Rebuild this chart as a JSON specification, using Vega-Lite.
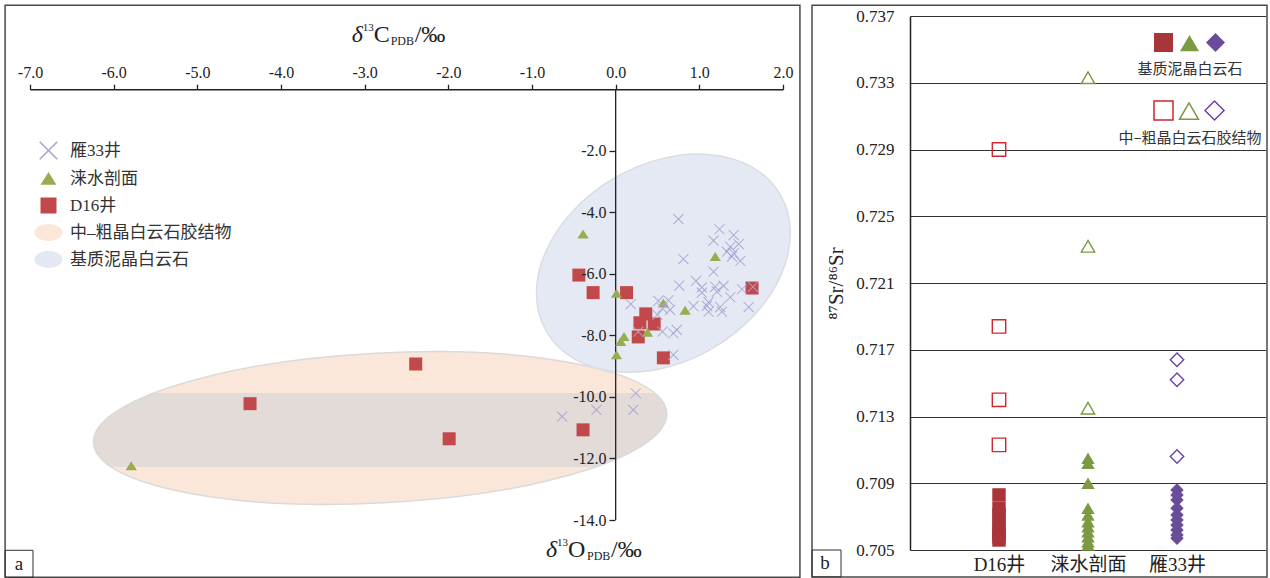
{
  "$schema": "https://vega.github.io/schema/vega-lite/v6.json",
  "background": "white",
  "padding": {"left": 4, "top": 4, "right": 0, "bottom": 0},
  "spacing": 10,
  "config": {"view": {"stroke": null}, "font": "Liberation Serif"},
  "datasets": {
    "iso": [
      {"group": "D16井", "d13C": -0.44, "d18O": -6.04},
      {"group": "D16井", "d13C": -0.27, "d18O": -6.61},
      {"group": "D16井", "d13C": 0.13, "d18O": -6.61},
      {"group": "D16井", "d13C": 0.36, "d18O": -7.30},
      {"group": "D16井", "d13C": 0.29, "d18O": -7.59},
      {"group": "D16井", "d13C": 0.46, "d18O": -7.63},
      {"group": "D16井", "d13C": 0.27, "d18O": -8.05},
      {"group": "D16井", "d13C": 0.57, "d18O": -8.73},
      {"group": "D16井", "d13C": 1.63, "d18O": -6.46},
      {"group": "D16井", "d13C": -2.39, "d18O": -8.93},
      {"group": "D16井", "d13C": -4.37, "d18O": -10.22},
      {"group": "D16井", "d13C": -1.99, "d18O": -11.36},
      {"group": "D16井", "d13C": -0.39, "d18O": -11.07},
      {"group": "涞水剖面", "d13C": -0.39, "d18O": -4.71},
      {"group": "涞水剖面", "d13C": 0.01, "d18O": -6.63},
      {"group": "涞水剖面", "d13C": 0.57, "d18O": -6.95},
      {"group": "涞水剖面", "d13C": 0.83, "d18O": -7.19},
      {"group": "涞水剖面", "d13C": 1.19, "d18O": -5.44},
      {"group": "涞水剖面", "d13C": 0.38, "d18O": -7.90},
      {"group": "涞水剖面", "d13C": 0.10, "d18O": -8.04},
      {"group": "涞水剖面", "d13C": 0.06, "d18O": -8.20},
      {"group": "涞水剖面", "d13C": 0.01, "d18O": -8.63},
      {"group": "涞水剖面", "d13C": -5.79, "d18O": -12.24},
      {"group": "雁33井", "d13C": 0.75, "d18O": -4.22},
      {"group": "雁33井", "d13C": 1.24, "d18O": -4.55},
      {"group": "雁33井", "d13C": 1.41, "d18O": -4.74},
      {"group": "雁33井", "d13C": 1.17, "d18O": -4.92},
      {"group": "雁33井", "d13C": 1.47, "d18O": -5.03},
      {"group": "雁33井", "d13C": 1.37, "d18O": -5.12},
      {"group": "雁33井", "d13C": 1.33, "d18O": -5.28},
      {"group": "雁33井", "d13C": 1.41, "d18O": -5.33},
      {"group": "雁33井", "d13C": 1.39, "d18O": -5.44},
      {"group": "雁33井", "d13C": 1.49, "d18O": -5.58},
      {"group": "雁33井", "d13C": 0.81, "d18O": -5.52},
      {"group": "雁33井", "d13C": 1.17, "d18O": -5.93},
      {"group": "雁33井", "d13C": 0.76, "d18O": -6.38},
      {"group": "雁33井", "d13C": 0.96, "d18O": -6.23},
      {"group": "雁33井", "d13C": 1.03, "d18O": -6.44},
      {"group": "雁33井", "d13C": 1.03, "d18O": -6.61},
      {"group": "雁33井", "d13C": 1.19, "d18O": -6.42},
      {"group": "雁33井", "d13C": 1.29, "d18O": -6.39},
      {"group": "雁33井", "d13C": 1.21, "d18O": -6.58},
      {"group": "雁33井", "d13C": 1.51, "d18O": -6.50},
      {"group": "雁33井", "d13C": 1.64, "d18O": -6.42},
      {"group": "雁33井", "d13C": 1.37, "d18O": -6.76},
      {"group": "雁33井", "d13C": 1.11, "d18O": -6.92},
      {"group": "雁33井", "d13C": 1.25, "d18O": -7.08},
      {"group": "雁33井", "d13C": 1.59, "d18O": -7.08},
      {"group": "雁33井", "d13C": 0.51, "d18O": -6.88},
      {"group": "雁33井", "d13C": 0.63, "d18O": -6.86},
      {"group": "雁33井", "d13C": 0.18, "d18O": -6.98},
      {"group": "雁33井", "d13C": 0.93, "d18O": -7.05},
      {"group": "雁33井", "d13C": 1.09, "d18O": -7.04},
      {"group": "雁33井", "d13C": 0.56, "d18O": -7.12},
      {"group": "雁33井", "d13C": 0.65, "d18O": -7.17},
      {"group": "雁33井", "d13C": 1.11, "d18O": -7.23},
      {"group": "雁33井", "d13C": 1.27, "d18O": -7.23},
      {"group": "雁33井", "d13C": 0.50, "d18O": -7.33},
      {"group": "雁33井", "d13C": 0.56, "d18O": -7.88},
      {"group": "雁33井", "d13C": 0.69, "d18O": -7.93},
      {"group": "雁33井", "d13C": 0.73, "d18O": -7.82},
      {"group": "雁33井", "d13C": 0.27, "d18O": -7.88},
      {"group": "雁33井", "d13C": 0.69, "d18O": -8.63},
      {"group": "雁33井", "d13C": -0.64, "d18O": -10.64},
      {"group": "雁33井", "d13C": -0.23, "d18O": -10.42},
      {"group": "雁33井", "d13C": 0.21, "d18O": -10.42},
      {"group": "雁33井", "d13C": 0.24, "d18O": -9.88}
    ],
    "srMatrix": [
      {"well": "D16井", "value": 0.7083}, {"well": "D16井", "value": 0.7075}, {"well": "D16井", "value": 0.7071},
      {"well": "D16井", "value": 0.7067}, {"well": "D16井", "value": 0.7063}, {"well": "D16井", "value": 0.7060},
      {"well": "D16井", "value": 0.7058}, {"well": "D16井", "value": 0.7056},
      {"well": "涞水剖面", "value": 0.7105}, {"well": "涞水剖面", "value": 0.7102}, {"well": "涞水剖面", "value": 0.7090},
      {"well": "涞水剖面", "value": 0.7075}, {"well": "涞水剖面", "value": 0.7071}, {"well": "涞水剖面", "value": 0.7067},
      {"well": "涞水剖面", "value": 0.7064}, {"well": "涞水剖面", "value": 0.7061}, {"well": "涞水剖面", "value": 0.7058},
      {"well": "涞水剖面", "value": 0.7055}, {"well": "涞水剖面", "value": 0.7053},
      {"well": "雁33井", "value": 0.7086}, {"well": "雁33井", "value": 0.7083}, {"well": "雁33井", "value": 0.7080},
      {"well": "雁33井", "value": 0.7075}, {"well": "雁33井", "value": 0.7071}, {"well": "雁33井", "value": 0.7068},
      {"well": "雁33井", "value": 0.7065}, {"well": "雁33井", "value": 0.7062}, {"well": "雁33井", "value": 0.7059},
      {"well": "雁33井", "value": 0.7057}
    ],
    "srCement": [
      {"well": "D16井", "value": 0.7290}, {"well": "D16井", "value": 0.7184}, {"well": "D16井", "value": 0.7140},
      {"well": "D16井", "value": 0.7113},
      {"well": "涞水剖面", "value": 0.7333}, {"well": "涞水剖面", "value": 0.7232}, {"well": "涞水剖面", "value": 0.7135},
      {"well": "雁33井", "value": 0.7164}, {"well": "雁33井", "value": 0.7152}, {"well": "雁33井", "value": 0.7106}
    ]
  },
  "hconcat": [
    {
      "width": 753,
      "height": 504,
      "layer": [
        {
          "data": {"name": "iso"},
          "mark": {"type": "point", "filled": true, "opacity": 0, "size": 1},
          "encoding": {
            "x": {
              "field": "d13C", "type": "quantitative",
              "scale": {"domain": [-7, 2], "nice": false, "zero": false},
              "axis": {"orient": "top", "offset": -73.26, "values": [-7, -6, -5, -4, -3, -2, -1, 0, 1, 2], "labelExpr": "replace(format(datum.value, '.1f'), '−', '-')", "title": null, "grid": false, "domainColor": "#222222", "domainWidth": 1.3, "tickColor": "#222222", "tickWidth": 1.3, "tickSize": 5, "labelFontSize": 16, "labelFont": "Liberation Serif", "labelColor": "#222222", "labelPadding": 4, "labelFlush": false, "labelOverlap": false, "zindex": 1}
            },
            "y": {
              "field": "d18O", "type": "quantitative",
              "scale": {"domain": [-14, 2.381], "nice": false, "zero": false},
              "axis": {"orient": "left", "offset": -585, "values": [-2, -4, -6, -8, -10, -12, -14], "labelExpr": "replace(format(datum.value, '.1f'), '−', '-')", "title": null, "grid": false, "domain": false, "tickColor": "#222222", "tickWidth": 1.3, "tickSize": 6, "labelFontSize": 16, "labelFont": "Liberation Serif", "labelColor": "#222222", "labelPadding": 3, "labelFlush": false, "labelOverlap": false, "zindex": 1}
            }
          }
        },
        {
          "data": {"values": [{}]},
          "mark": {"type": "rect", "filled": false, "color": "#4a4a4a", "strokeWidth": 1.5},
          "encoding": {
            "x": {"datum": -7.2976, "type": "quantitative"},
            "x2": {"datum": 2.2024},
            "y": {"datum": 2.7288, "type": "quantitative"},
            "y2": {"datum": -15.862}
          }
        },
        {
          "data": {"values": [{}]},
          "mark": {"type": "rect", "filled": false, "color": "#333333", "strokeWidth": 1},
          "encoding": {
            "x": {"datum": -7.2976, "type": "quantitative"},
            "x2": {"datum": -6.9643},
            "y": {"datum": -14.985, "type": "quantitative"},
            "y2": {"datum": -15.862}
          }
        },
        {
          "data": {"values": [{}]},
          "mark": {"type": "text", "text": "a", "fontSize": 19, "font": "Liberation Serif", "color": "#222222", "align": "center", "baseline": "middle"},
          "encoding": {
            "x": {"datum": -7.131, "type": "quantitative"},
            "y": {"datum": -15.423, "type": "quantitative"}
          }
        },
        {
          "data": {"values": [{}]},
          "mark": {"type": "point", "shape": "M-1,0A1,0.261,0,1,0,1,0A1,0.261,0,1,0,-1,0Z", "size": 329476, "angle": -3, "filled": true, "fill": "#fbe6da", "strokeWidth": 0, "opacity": 1},
          "encoding": {
            "x": {"datum": -2.815, "type": "quantitative"},
            "y": {"datum": -11.01, "type": "quantitative"}
          }
        },
        {
          "data": {"values": [{}]},
          "mark": {"type": "point", "shape": "M-0.7892,-0.122L0.9564,-0.122A1,0.2613,-3,0,1,0.7509,0.1359L-0.9373,0.1359A1,0.2613,-3,0,1,-0.7892,-0.122Z", "size": 329476, "angle": 0, "filled": true, "fill": "#e3dbd7", "strokeWidth": 0, "opacity": 1},
          "encoding": {
            "x": {"datum": -2.815, "type": "quantitative"},
            "y": {"datum": -11.01, "type": "quantitative"}
          }
        },
        {
          "data": {"values": [{}]},
          "mark": {"type": "point", "shape": "M-1,0A1,0.261,0,1,0,1,0A1,0.261,0,1,0,-1,0Z", "size": 329476, "angle": -3, "filled": false, "stroke": "#dadada", "strokeWidth": 1.5, "opacity": 1},
          "encoding": {
            "x": {"datum": -2.815, "type": "quantitative"},
            "y": {"datum": -11.01, "type": "quantitative"}
          }
        },
        {
          "data": {"values": [{}]},
          "mark": {"type": "point", "shape": "M-1,0A1,0.725,0,1,0,1,0A1,0.725,0,1,0,-1,0Z", "size": 73441, "angle": -30.5, "filled": true, "fill": "#e5e9f4", "stroke": "#dcdde3", "strokeWidth": 1.5, "opacity": 1},
          "encoding": {
            "x": {"datum": 0.571, "type": "quantitative"},
            "y": {"datum": -5.652, "type": "quantitative"}
          }
        },
        {
          "data": {"values": [{}]},
          "mark": {"type": "rule", "color": "#222222", "strokeWidth": 1.3},
          "encoding": {
            "x": {"datum": 0, "type": "quantitative"},
            "y": {"datum": 0, "type": "quantitative"},
            "y2": {"datum": -14}
          }
        },
        {
          "data": {"name": "iso"},
          "mark": {"type": "point", "filled": true, "opacity": 1, "strokeWidth": 0},
          "encoding": {
            "x": {"field": "d13C", "type": "quantitative"},
            "y": {"field": "d18O", "type": "quantitative"},
            "color": {
              "field": "group", "type": "nominal",
              "scale": {"domain": ["雁33井", "涞水剖面", "D16井", "中–粗晶白云石胶结物", "基质泥晶白云石"], "range": ["#a9a5d2", "#9aab50", "#c1484b", "#fbe6da", "#e4e8f4"]},
              "legend": {"title": null, "orient": "none", "legendX": 10, "legendY": 126, "symbolSize": 256, "symbolStrokeWidth": 0, "symbolOpacity": 1, "labelFontSize": 17, "labelFont": "Liberation Serif, Noto Sans CJK SC", "labelColor": "#333333", "labelOffset": 13, "rowPadding": 9, "labelLimit": 400}
            },
            "shape": {
              "field": "group", "type": "nominal",
              "scale": {"domain": ["雁33井", "涞水剖面", "D16井", "中–粗晶白云石胶结物", "基质泥晶白云石"], "range": ["M-1.03,-1.17L1.17,1.03L1.03,1.17L-1.17,-1.03ZM-1.17,1.03L1.03,-1.17L1.17,-1.03L-1.03,1.17Z", "M0,-0.82L1,0.78L-1,0.78Z", "square", "M-1.75,0A1.75,1.05,0,1,0,1.75,0A1.75,1.05,0,1,0,-1.75,0Z", "M-1.75,0A1.75,1.05,0,1,0,1.75,0A1.75,1.05,0,1,0,-1.75,0Z"]},
              "legend": {"title": null, "orient": "none", "legendX": 10, "legendY": 126, "symbolSize": 256, "symbolStrokeWidth": 0, "symbolOpacity": 1, "labelFontSize": 17, "labelFont": "Liberation Serif, Noto Sans CJK SC", "labelColor": "#333333", "labelOffset": 13, "rowPadding": 9, "labelLimit": 400}
            },
            "size": {
              "field": "group", "type": "nominal",
              "scale": {"domain": ["雁33井", "涞水剖面", "D16井"], "range": [84, 169, 132]},
              "legend": null
            }
          }
        },
        {
          "data": {"values": [{}]},
          "mark": {"type": "text", "text": "δ", "fontSize": 24, "fontStyle": "italic", "font": "Liberation Serif", "color": "#222222", "align": "left", "baseline": "alphabetic", "dx": 0},
          "encoding": {"x": {"datum": -3.155, "type": "quantitative"}, "y": {"datum": 1.5425, "type": "quantitative"}}
        },
        {
          "data": {"values": [{}]},
          "mark": {"type": "text", "text": "13", "fontSize": 11, "font": "Liberation Serif", "color": "#222222", "align": "left", "baseline": "alphabetic", "dx": 11, "dy": -11},
          "encoding": {"x": {"datum": -3.155, "type": "quantitative"}, "y": {"datum": 1.5425, "type": "quantitative"}}
        },
        {
          "data": {"values": [{}]},
          "mark": {"type": "text", "text": "C", "fontSize": 24, "font": "Liberation Serif", "color": "#222222", "align": "left", "baseline": "alphabetic", "dx": 22},
          "encoding": {"x": {"datum": -3.155, "type": "quantitative"}, "y": {"datum": 1.5425, "type": "quantitative"}}
        },
        {
          "data": {"values": [{}]},
          "mark": {"type": "text", "text": "PDB", "fontSize": 12, "font": "Liberation Serif", "color": "#222222", "align": "left", "baseline": "alphabetic", "dx": 39, "dy": 3},
          "encoding": {"x": {"datum": -3.155, "type": "quantitative"}, "y": {"datum": 1.5425, "type": "quantitative"}}
        },
        {
          "data": {"values": [{}]},
          "mark": {"type": "text", "text": "/‰", "fontSize": 24, "font": "Liberation Serif", "color": "#222222", "align": "left", "baseline": "alphabetic", "dx": 63},
          "encoding": {"x": {"datum": -3.155, "type": "quantitative"}, "y": {"datum": 1.5425, "type": "quantitative"}}
        },
        {
          "data": {"values": [{}]},
          "mark": {"type": "text", "text": "δ", "fontSize": 24, "fontStyle": "italic", "font": "Liberation Serif", "color": "#222222", "align": "left", "baseline": "alphabetic", "dx": 0},
          "encoding": {"x": {"datum": -0.833, "type": "quantitative"}, "y": {"datum": -15.212, "type": "quantitative"}}
        },
        {
          "data": {"values": [{}]},
          "mark": {"type": "text", "text": "13", "fontSize": 11, "font": "Liberation Serif", "color": "#222222", "align": "left", "baseline": "alphabetic", "dx": 11, "dy": -11},
          "encoding": {"x": {"datum": -0.833, "type": "quantitative"}, "y": {"datum": -15.212, "type": "quantitative"}}
        },
        {
          "data": {"values": [{}]},
          "mark": {"type": "text", "text": "O", "fontSize": 24, "font": "Liberation Serif", "color": "#222222", "align": "left", "baseline": "alphabetic", "dx": 22},
          "encoding": {"x": {"datum": -0.833, "type": "quantitative"}, "y": {"datum": -15.212, "type": "quantitative"}}
        },
        {
          "data": {"values": [{}]},
          "mark": {"type": "text", "text": "PDB", "fontSize": 12, "font": "Liberation Serif", "color": "#222222", "align": "left", "baseline": "alphabetic", "dx": 41, "dy": 3},
          "encoding": {"x": {"datum": -0.833, "type": "quantitative"}, "y": {"datum": -15.212, "type": "quantitative"}}
        },
        {
          "data": {"values": [{}]},
          "mark": {"type": "text", "text": "/‰", "fontSize": 24, "font": "Liberation Serif", "color": "#222222", "align": "left", "baseline": "alphabetic", "dx": 65},
          "encoding": {"x": {"datum": -0.833, "type": "quantitative"}, "y": {"datum": -15.212, "type": "quantitative"}}
        }
      ]
    },
    {
      "width": 356,
      "height": 534,
      "resolve": {"scale": {"x": "independent"}},
      "layer": [
        {
          "resolve": {"scale": {"color": "independent", "shape": "independent"}},
          "layer": [
            {
              "data": {"name": "srMatrix"},
              "mark": {"type": "point", "filled": true, "opacity": 1, "size": 180, "strokeWidth": 0},
              "encoding": {
                "x": {
                  "field": "well", "type": "nominal",
                  "scale": {"type": "point", "domain": ["D16井", "涞水剖面", "雁33井"], "padding": 1},
                  "axis": {"title": null, "domain": false, "ticks": false, "tickSize": 0, "labelAngle": 0, "labelFontSize": 19, "labelFont": "Liberation Serif, Noto Sans CJK SC", "labelColor": "#222222", "labelPadding": 5, "grid": false}
                },
                "y": {
                  "field": "value", "type": "quantitative",
                  "scale": {"domain": [0.705, 0.737], "nice": false, "zero": false},
                  "axis": {"title": "⁸⁷Sr/⁸⁶Sr", "values": [0.705, 0.709, 0.713, 0.717, 0.721, 0.725, 0.729, 0.733, 0.737], "format": ".3f", "grid": true, "gridColor": "#333333", "gridWidth": 1.2, "gridOpacity": 1, "domain": true, "domainColor": "#222222", "domainWidth": 1.5, "ticks": false, "tickSize": 0, "labelPadding": 16, "labelFontSize": 17, "labelFont": "Liberation Serif", "labelColor": "#222222", "titleFont": "Liberation Serif", "titleFontSize": 21, "titleFontWeight": "normal", "titleColor": "#222222", "titlePadding": 9}
                },
                "color": {
                  "field": "well", "type": "nominal",
                  "scale": {"domain": ["D16井", "涞水剖面", "雁33井"], "range": ["#a93538", "#7c9a42", "#6a4d98"]},
                  "legend": {"title": "基质泥晶白云石", "titleOrient": "bottom", "titleAnchor": "middle", "titleFont": "Noto Sans CJK SC", "titleFontSize": 15, "titleFontWeight": "normal", "titleColor": "#333333", "titlePadding": 10, "titleLimit": 300, "direction": "horizontal", "orient": "none", "legendX": 227, "legendY": 17, "labelExpr": "''", "labelOffset": 0, "columnPadding": 7, "symbolSize": 361, "symbolOffset": 0, "symbolStrokeWidth": 0, "symbolOpacity": 1}
                },
                "shape": {
                  "field": "well", "type": "nominal",
                  "scale": {"domain": ["D16井", "涞水剖面", "雁33井"], "range": ["square", "triangle-up", "diamond"]},
                  "legend": {"title": "基质泥晶白云石", "titleOrient": "bottom", "titleAnchor": "middle", "titleFont": "Noto Sans CJK SC", "titleFontSize": 15, "titleFontWeight": "normal", "titleColor": "#333333", "titlePadding": 10, "titleLimit": 300, "direction": "horizontal", "orient": "none", "legendX": 227, "legendY": 17, "labelExpr": "''", "labelOffset": 0, "columnPadding": 7, "symbolSize": 361, "symbolOffset": 0, "symbolStrokeWidth": 0, "symbolOpacity": 1}
                }
              }
            },
            {
              "data": {"name": "srCement"},
              "mark": {"type": "point", "filled": false, "opacity": 1, "size": 180, "strokeWidth": 1.4},
              "encoding": {
                "x": {"field": "well", "type": "nominal"},
                "y": {"field": "value", "type": "quantitative"},
                "color": {
                  "field": "well", "type": "nominal",
                  "scale": {"domain": ["D16井", "涞水剖面", "雁33井"], "range": ["#d0262e", "#7a9a3e", "#7040a5"]},
                  "legend": {"title": "中–粗晶白云石胶结物", "titleOrient": "bottom", "titleAnchor": "middle", "titleFont": "Noto Sans CJK SC", "titleFontSize": 15, "titleFontWeight": "normal", "titleColor": "#333333", "titlePadding": 8, "titleLimit": 300, "direction": "horizontal", "orient": "none", "legendX": 208, "legendY": 84, "labelExpr": "''", "labelOffset": 0, "columnPadding": 0.5, "symbolSize": 361, "symbolOffset": 0, "symbolStrokeWidth": 1.5, "symbolOpacity": 1}
                },
                "shape": {
                  "field": "well", "type": "nominal",
                  "scale": {"domain": ["D16井", "涞水剖面", "雁33井"], "range": ["square", "triangle-up", "diamond"]},
                  "legend": {"title": "中–粗晶白云石胶结物", "titleOrient": "bottom", "titleAnchor": "middle", "titleFont": "Noto Sans CJK SC", "titleFontSize": 15, "titleFontWeight": "normal", "titleColor": "#333333", "titlePadding": 8, "titleLimit": 300, "direction": "horizontal", "orient": "none", "legendX": 208, "legendY": 84, "labelExpr": "''", "labelOffset": 0, "columnPadding": 0.5, "symbolSize": 361, "symbolOffset": 0, "symbolStrokeWidth": 1.5, "symbolOpacity": 1}
                }
              }
            }
          ]
        },
        {
          "data": {"values": [{}]},
          "mark": {"type": "rect", "filled": false, "color": "#4a4a4a", "strokeWidth": 1.5},
          "encoding": {
            "x": {"datum": -0.2753, "type": "quantitative", "scale": {"domain": [0, 1], "nice": false, "zero": false}, "axis": null},
            "x2": {"datum": 1.0028},
            "y": {"datum": 0.737641, "type": "quantitative"},
            "y2": {"datum": 0.703389}
          }
        },
        {
          "data": {"values": [{}]},
          "mark": {"type": "rect", "filled": false, "color": "#333333", "strokeWidth": 1},
          "encoding": {
            "x": {"datum": -0.2753, "type": "quantitative", "scale": {"domain": [0, 1], "nice": false, "zero": false}, "axis": null},
            "x2": {"datum": -0.1938},
            "y": {"datum": 0.705, "type": "quantitative"},
            "y2": {"datum": 0.703389}
          }
        },
        {
          "data": {"values": [{}]},
          "mark": {"type": "text", "text": "b", "fontSize": 19, "font": "Liberation Serif", "color": "#222222", "align": "center", "baseline": "middle"},
          "encoding": {
            "x": {"datum": -0.2388, "type": "quantitative", "scale": {"domain": [0, 1], "nice": false, "zero": false}, "axis": null},
            "y": {"datum": 0.7042, "type": "quantitative"}
          }
        }
      ]
    }
  ]
}
